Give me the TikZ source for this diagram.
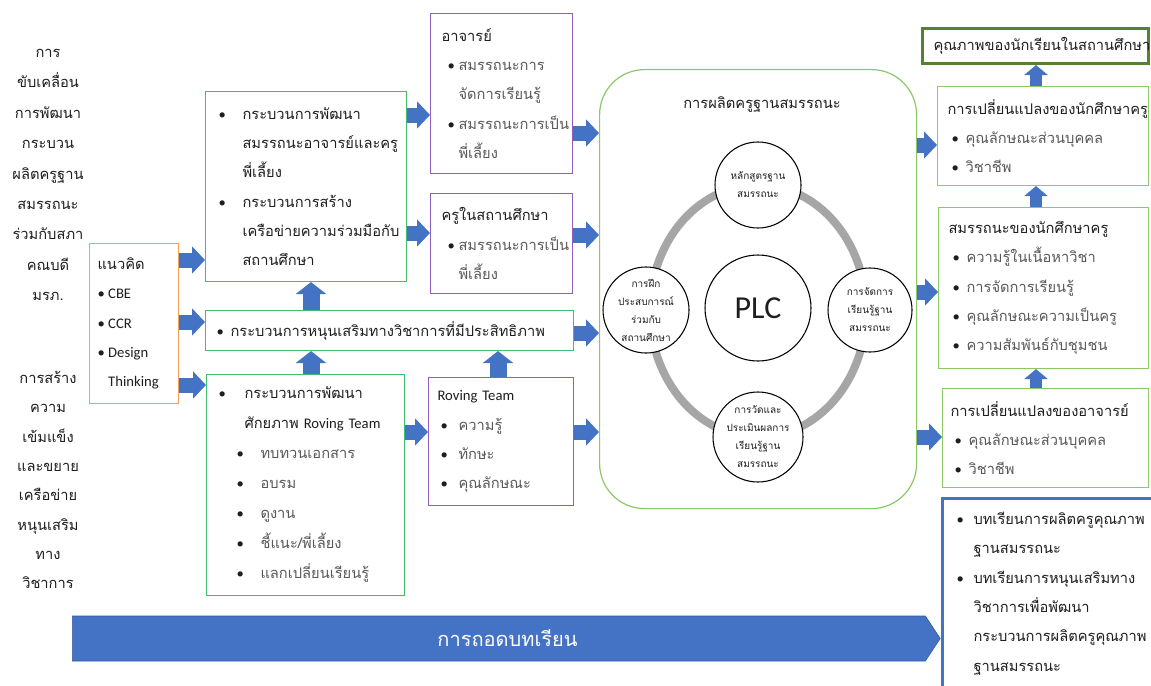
\documentclass[tikz,border=0pt]{standalone}
\usepackage{fontspec}
\setmainfont[Script=Thai]{Loma}
\newfontfamily\lat{Carlito}
\usetikzlibrary{arrows.meta,shapes.symbols}

\definecolor{arrowblue}{HTML}{4472C4}
\definecolor{boxgreen}{HTML}{40BF70}
\definecolor{boxpurple}{HTML}{8F5FBF}
\definecolor{boxorange}{HTML}{F4A15D}
\definecolor{lightgreen}{HTML}{8CC866}
\definecolor{darkgreen}{HTML}{548235}
\definecolor{ringgray}{HTML}{A6A6A6}
\definecolor{itemgray}{HTML}{595959}
\definecolor{txt}{HTML}{1E1E1E}

\newcommand{\bul}[1]{\makebox[#1][l]{\lat\textbullet}}
\newcommand{\ind}[1]{\hspace*{#1}}
\newcommand{\gi}[1]{\textcolor{itemgray}{#1}}

\begin{document}
\begin{tikzpicture}[x=0.75pt,y=-0.75pt]
  \tikzstyle{box}=[draw,line width=0.8pt,anchor=north west,align=left,inner ysep=0pt,text=txt,font=\fontsize{11}{22}\selectfont]
  \tikzstyle{blk}=[draw=arrowblue,line width=11.25pt,-{Triangle[length=9.75pt,width=20pt]}]
  \tikzstyle{blkup}=[draw=arrowblue,line width=12.75pt,-{Triangle[length=9pt,width=22.5pt]}]
  \tikzstyle{blksm}=[draw=arrowblue,line width=9pt,-{Triangle[length=7.5pt,width=17.25pt]}]
  \tikzstyle{orb}=[circle,draw,line width=0.8pt,fill=white,align=center,inner sep=0pt,text=txt,font=\fontsize{7.5}{13.5}\selectfont]

  \useasboundingbox[fill=white] (0,0) rectangle (1151,685);

  % side labels
  \node[align=center,text=txt,font=\fontsize{11}{22.8}\selectfont] (lead1) at (48,175)
    {การ\\ขับเคลื่อน\\การพัฒนา\\กระบวน\\ผลิตครูฐาน\\สมรรถนะ\\ร่วมกับสภา\\คณบดี\\มรภ.};
  \node[align=center,text=txt,font=\fontsize{11}{22}\selectfont] (lead2) at (48,480)
    {การสร้าง\\ความ\\เข้มแข็ง\\และขยาย\\เครือข่าย\\หนุนเสริม\\ทาง\\วิชาการ};

  % concept
  \node[box,draw=boxorange,text width=54.75pt,inner xsep=6pt,minimum height=120pt] (idea) at (89,243)
    {แนวคิด\\\bul{8pt}{\lat CBE}\\\bul{8pt}{\lat CCR}\\\bul{8pt}{\lat Design}\\\ind{8pt}{\lat Thinking}};

  % processes
  \node[box,draw=boxgreen,text width=131.25pt,inner xsep=9.75pt,minimum height=142.5pt] (procA) at (205,91)
    {\bul{18pt}กระบวนการพัฒนา\\
     \ind{18pt}สมรรถนะอาจารย์และครู\\
     \ind{18pt}พี่เลี้ยง\\
     \bul{18pt}กระบวนการสร้าง\\
     \ind{18pt}เครือข่ายความร่วมมือกับ\\
     \ind{18pt}สถานศึกษา};
  \node[box,draw=boxgreen,text width=259.5pt,inner xsep=8.25pt,minimum height=30pt] (procB) at (205,310)
    {\bul{10.5pt}กระบวนการหนุนเสริมทางวิชาการที่มีประสิทธิภาพ};
  \node[box,draw=boxgreen,text width=130.5pt,inner xsep=9pt,minimum height=165.75pt,font=\fontsize{11}{22.5}\selectfont] (procC) at (206,374)
    {\bul{19.5pt}กระบวนการพัฒนา\\
     \ind{19.5pt}\mbox{ศักยภาพ {\lat Roving Team}}\\
     \ind{13.5pt}\bul{18pt}\gi{ทบทวนเอกสาร}\\
     \ind{13.5pt}\bul{18pt}\gi{อบรม}\\
     \ind{13.5pt}\bul{18pt}\gi{ดูงาน}\\
     \ind{13.5pt}\bul{18pt}\gi{ชี้แนะ/พี่เลี้ยง}\\
     \ind{13.5pt}\bul{18pt}\gi{แลกเปลี่ยนเรียนรู้}};

  % competencies
  \node[box,draw=boxpurple,text width=90pt,inner xsep=8.25pt,minimum height=120pt] (tchA) at (430,13)
    {อาจารย์\\
     \ind{4.5pt}\bul{8.25pt}\gi{สมรรถนะการ}\\
     \ind{12.75pt}\gi{จัดการเรียนรู้}\\
     \ind{4.5pt}\bul{8.25pt}\gi{สมรรถนะการเป็น}\\
     \ind{12.75pt}\gi{พี่เลี้ยง}};
  \node[box,draw=boxpurple,text width=90pt,inner xsep=8.25pt,minimum height=75pt] (tchS) at (430,193)
    {ครูในสถานศึกษา\\
     \ind{4.5pt}\bul{8.25pt}\gi{สมรรถนะการเป็น}\\
     \ind{12.75pt}\gi{พี่เลี้ยง}};
  \node[box,draw=boxpurple,text width=95.25pt,inner xsep=6.75pt,minimum height=96pt] (rov) at (428,377)
    {\mbox{\lat Roving Team}\\
     \ind{2.25pt}\bul{13.5pt}\gi{ความรู้}\\
     \ind{2.25pt}\bul{13.5pt}\gi{ทักษะ}\\
     \ind{2.25pt}\bul{13.5pt}\gi{คุณลักษณะ}};

  % production
  \node[draw=lightgreen,line width=0.9pt,rounded corners=33.75pt,minimum width=237.75pt,minimum height=329.25pt,anchor=north west] (prod) at (599,69) {};
  \node[text=txt,font=\fontsize{11}{22}\selectfont] (prodT) at (762,105) {การผลิตครูฐานสมรรถนะ};
  \coordinate (hub) at (758,311);
  \draw[ringgray,line width=6pt] (hub) ellipse [x radius=81pt,y radius=94.5pt];
  \node[orb,minimum size=64.5pt] (cur) at (758,185) {หลักสูตรฐาน\\สมรรถนะ};
  \node[orb,minimum size=63pt] (lrn) at (870,310) {การจัดการ\\เรียนรู้ฐาน\\สมรรถนะ};
  \node[orb,minimum size=67.5pt] (eva) at (758,437) {การวัดและ\\ประเมินผลการ\\เรียนรู้ฐาน\\สมรรถนะ};
  \node[orb,minimum size=64.5pt] (prc) at (646,310) {การฝึก\\ประสบการณ์\\ร่วมกับ\\สถานศึกษา};
  \node[orb,minimum size=79.5pt,font=\lat\fontsize{24}{24}\selectfont] (plc) at (758,308) {PLC};

  % outcomes
  \node[box,draw=darkgreen,line width=2.25pt,text width=153pt,inner xsep=8.25pt,minimum height=26.25pt] (qual) at (921,27)
    {คุณภาพของนักเรียนในสถานศึกษา};
  \node[box,draw=lightgreen,text width=143.25pt,inner xsep=7.5pt,minimum height=74.25pt] (chgS) at (937,86)
    {การเปลี่ยนแปลงของนักศึกษาครู\\
     \ind{3pt}\bul{10.5pt}\gi{คุณลักษณะส่วนบุคคล}\\
     \ind{3pt}\bul{10.5pt}\gi{วิชาชีพ}};
  \node[box,draw=lightgreen,text width=142.5pt,inner xsep=7.5pt,minimum height=120.75pt] (compS) at (938,207)
    {สมรรถนะของนักศึกษาครู\\
     \ind{3pt}\bul{10.5pt}\gi{ความรู้ในเนื้อหาวิชา}\\
     \ind{3pt}\bul{10.5pt}\gi{การจัดการเรียนรู้}\\
     \ind{3pt}\bul{10.5pt}\gi{คุณลักษณะความเป็นครู}\\
     \ind{3pt}\bul{10.5pt}\gi{ความสัมพันธ์กับชุมชน}};
  \node[box,draw=lightgreen,text width=142.5pt,inner xsep=6pt,minimum height=74.25pt] (chgT) at (942,388)
    {การเปลี่ยนแปลงของอาจารย์\\
     \ind{3pt}\bul{10.5pt}\gi{คุณลักษณะส่วนบุคคล}\\
     \ind{3pt}\bul{10.5pt}\gi{วิชาชีพ}};
  \node[box,draw=arrowblue,line width=2.25pt,text width=144pt,inner xsep=10.5pt,minimum height=142.5pt] (lesson) at (941,497)
    {\bul{12.75pt}บทเรียนการผลิตครูคุณภาพ\\
     \ind{12.75pt}ฐานสมรรถนะ\\
     \bul{12.75pt}บทเรียนการหนุนเสริมทาง\\
     \ind{12.75pt}วิชาการเพื่อพัฒนา\\
     \ind{12.75pt}กระบวนการผลิตครูคุณภาพ\\
     \ind{12.75pt}ฐานสมรรถนะ};

  % lessons learned bar
  \node[signal,signal to=east,fill=arrowblue,draw=arrowblue!80!black,minimum width=651pt,minimum height=33.75pt,signal pointer angle=113,inner sep=0pt,anchor=west,text=white,font=\fontsize{15}{15}\selectfont] (bar) at (72,638.5) {\hspace*{13pt}การถอดบทเรียน};

  % block arrows
  \draw[blk] (idea.east |- 0,260) -- (procA.west |- 0,260);
  \draw[blk] (idea.east |- 0,322) -- (procB.west |- 0,322);
  \draw[blk] (idea.east |- 0,385) -- (procC.west |- 0,385);
  \draw[blk] (procA.east |- 0,115) -- (tchA.west |- 0,115);
  \draw[blk] (procA.east |- 0,233) -- (tchS.west |- 0,233);
  \draw[blk] (procC.east |- 0,432) -- (rov.west |- 0,432);
  \draw[blk] (procB.east |- 0,333) -- (prod.west |- 0,333);
  \draw[blk] (tchA.east |- 0,133) -- (prod.west |- 0,133);
  \draw[blk] (tchS.east |- 0,235) -- (prod.west |- 0,235);
  \draw[blk] (rov.east |- 0,432) -- (prod.west |- 0,432);
  \draw[blkup] (procB.north -| 311,0) -- (procA.south -| 311,0);
  \draw[blkup] (procC.north -| 311,0) -- (procB.south -| 311,0);
  \draw[blkup] (rov.north -| 498,0) -- (procB.south -| 498,0);
  \draw[blk] (prod.east |- 0,145) -- (chgS.west |- 0,145);
  \draw[blk] (prod.east |- 0,292) -- (compS.west |- 0,292);
  \draw[blk] (prod.east |- 0,437) -- (chgT.west |- 0,437);
  \draw[blksm] (chgS.north -| 1036,0) -- (qual.south -| 1036,0);
  \draw[blksm] (compS.north -| 1036,0) -- (chgS.south -| 1036,0);
  \draw[blksm] (chgT.north -| 1036,0) -- (compS.south -| 1036,0);
\end{tikzpicture}
\end{document}
